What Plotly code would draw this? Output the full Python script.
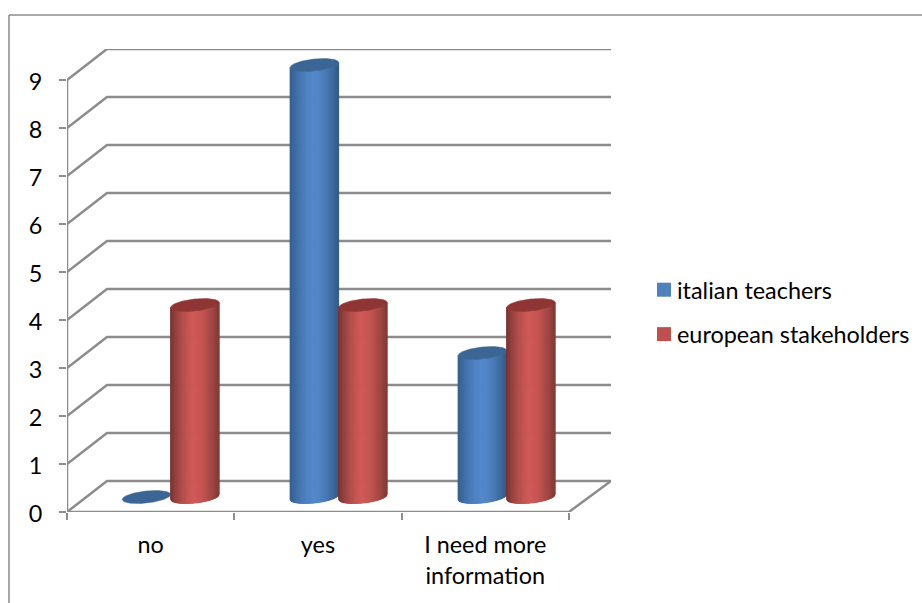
import plotly.graph_objects as go
import math

categories = ["no", "yes", "I need more<br>information"]
italian_teachers = [0, 9, 3]
european_stakeholders = [4, 4, 4]
y_ticks = [0, 1, 2, 3, 4, 5, 6, 7, 8, 9]
series_names = ["italian teachers", "european stakeholders"]

# pixel scale of the plot box
W, H = 922, 603
L, R, T, B = 67, 611, 49, 512
x_unit = 167.3
y_unit = 48.0
x_max = (R - L) / x_unit
y_max = (B - T) / y_unit
depth_l = 40 / x_unit
depth_y = 31 / y_unit
GRID = "#8c8c8c"

palette = [
    dict(edge_l=(50, 92, 140), edge_r=(50, 90, 136), mid=(84, 136, 202), top="#3a6595", legend="#4f81bd"),
    dict(edge_l=(118, 50, 48), edge_r=(130, 56, 54), mid=(206, 90, 87), top="#8f3533", legend="#c0504d"),
]

fig = go.Figure()

# walls and floor
gx, gy = [], []
for v in y_ticks:
    gx += [0, depth_l, x_max, None]
    gy += [v, v + depth_y, v + depth_y, None]
gx += [0, 0, None, 0, 3, x_max]
gy += [0, 9, None, 0, 0, depth_y]
fig.add_trace(go.Scatter(x=gx, y=gy, mode="lines", line=dict(color=GRID, width=2.5),
                         showlegend=False, hoverinfo="skip", cliponaxis=False))

bar_w = 48.5 / x_unit
pitch = 168.0 / x_unit
base_y = 15 / y_unit
ell_h = 6 / y_unit
tilt = 2.5 / y_unit
center_off = 20 / x_unit
STRIPS = 48


def lip(u, sign):
    return tilt * u + sign * ell_h * math.sqrt(max(0, 1 - u * u))


def mix(a, b, t):
    return tuple(int(round(a[i] + (b[i] - a[i]) * t)) for i in range(3))


def cylinder(x0, value, pal):
    if value > 0:
        for k in range(STRIPS):
            u0 = -1 + 2 * k / STRIPS
            u1 = -1 + 2 * (k + 1) / STRIPS
            us = [u0 + (u1 - u0) * j / 3 for j in range(4)]
            xs = [x0 + (u + 1) * bar_w / 2 for u in us]
            yb = [base_y + lip(u, -1) for u in us]
            yt = [base_y + value + lip(u, -1) for u in us]
            um = (u0 + u1) / 2
            t = 1 - abs(um) ** 1.6
            col = mix(pal["edge_l"] if um < 0 else pal["edge_r"], pal["mid"], t)
            c = "rgb(%d,%d,%d)" % col
            fig.add_trace(go.Scatter(
                x=xs + xs[::-1] + [xs[0]], y=yb + yt[::-1] + [yb[0]],
                mode="lines", fill="toself", fillcolor=c, line=dict(color=c, width=1),
                showlegend=False, hoverinfo="skip"))
    n = 60
    us = [-1 + 2 * i / n for i in range(n + 1)]
    ex = [x0 + (u + 1) * bar_w / 2 for u in us] + [x0 + (u + 1) * bar_w / 2 for u in us[::-1]]
    ey = [base_y + value + lip(u, -1) for u in us] + [base_y + value + lip(u, 1) for u in us[::-1]]
    fig.add_trace(go.Scatter(x=ex, y=ey, mode="lines", fill="toself", fillcolor=pal["top"],
                             line=dict(color=pal["top"], width=0.5), showlegend=False, hoverinfo="skip"))


for i in range(len(categories)):
    c = 0.5 + i * pitch + center_off
    cylinder(c - bar_w, italian_teachers[i], palette[0])
    cylinder(c, european_stakeholders[i], palette[1])

for name, pal in zip(series_names, palette):
    fig.add_trace(go.Scatter(x=[None], y=[None], mode="markers", name=name, legendgroup=name,
                             marker=dict(symbol="square", size=14, color=pal["legend"])))

font = dict(family="Lato, Carlito, sans-serif", size=23.4, color="#000000")
fig.update_layout(
    width=W, height=H,
    margin=dict(l=L, r=W - R, t=T, b=H - B, pad=0, autoexpand=False),
    paper_bgcolor="white", plot_bgcolor="white", font=font,
    xaxis=dict(range=[0, x_max], tickvals=[0.5, 1.5, 2.5], ticktext=categories, ticks="",
               showgrid=False, zeroline=False, showline=False, ticklabelstandoff=17,
               minor=dict(tickvals=[0, 1, 2, 3], ticks="outside", ticklen=7, tickcolor=GRID,
                          tickwidth=2, showgrid=False),
               tickfont=font, fixedrange=True),
    yaxis=dict(range=[0, y_max], tickvals=y_ticks, ticks="outside", ticklen=7, tickcolor=GRID,
               tickwidth=2, showgrid=False, zeroline=False, showline=False,
               ticklabelstandoff=12, ticklabelshift=2, tickfont=font, fixedrange=True),
    legend=dict(x=(637 - L) / (R - L), y=(B - 268) / (B - T), xanchor="left", yanchor="top",
                tracegroupgap=11, bgcolor="rgba(0,0,0,0)", font=font, itemsizing="trace"),
    shapes=[
        dict(type="line", xref="paper", yref="paper", layer="below",
             x0=(9 - L) / (R - L), x1=(W - L) / (R - L),
             y0=(B - 15) / (B - T), y1=(B - 15) / (B - T), line=dict(color=GRID, width=1.5)),
        dict(type="line", xref="paper", yref="paper", layer="below",
             x0=(9 - L) / (R - L), x1=(9 - L) / (R - L),
             y0=(B - 15) / (B - T), y1=(B - H) / (B - T), line=dict(color=GRID, width=1.5)),
    ],
)

fig.write_html("out.html", config=dict(displayModeBar=False),
               post_script="document.body.style.margin='0';document.body.style.overflow='hidden';"
                           "document.querySelectorAll('.legend .legendpoints').forEach(function(g){"
                           "g.setAttribute('transform','translate(7,0)');});")
